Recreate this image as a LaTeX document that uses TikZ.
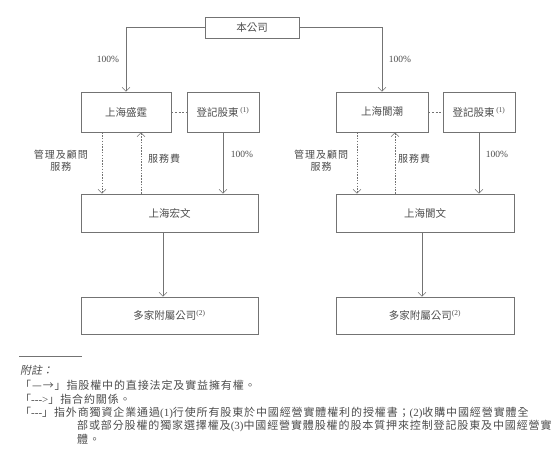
\documentclass[tikz,border=0pt]{standalone}
\usepackage{fontspec}
\setmainfont{Noto Sans CJK TC}
\newfontfamily\lat{Liberation Serif}
\newfontfamily\cjkit[FakeSlant=0.2]{Noto Sans CJK TC}
\newfontfamily\notefont[LetterSpace=8]{Noto Sans CJK TC}
\newfontfamily\lblfont[LetterSpace=10]{Noto Sans CJK TC}
\usetikzlibrary{arrows.meta}
\definecolor{inkgray}{gray}{0.3}
\definecolor{linegray}{gray}{0.45}
\tikzset{
  entity/.style={draw=linegray, line width=0.6pt, minimum height=40pt, inner sep=0pt,
    font=\fontsize{10.5}{12}\selectfont, text=inkgray},
  own/.style={draw=linegray, line width=0.6pt, -{Straight Barb[length=4pt,width=8pt]}},
  contract/.style={own, dash pattern=on 1.5pt off 1.3pt},
  ctrl/.style={draw=linegray, line width=0.6pt, dash pattern=on 2pt off 1.6pt},
  lbl/.style={font=\lblfont\fontsize{10}{12}\selectfont, text=inkgray, align=center, inner sep=0pt},
  pct/.style={font=\lat\fontsize{9.5}{11}\selectfont, text=inkgray, inner sep=0pt},
  note/.style={font=\notefont\fontsize{11}{13}\selectfont, text=inkgray, anchor=west, inner sep=0pt},
}
\begin{document}
\begin{tikzpicture}[x=1pt,y=-1pt]
\useasboundingbox (0,0) rectangle (560,464);
% entities
\node[entity, minimum width=94pt, minimum height=21pt] (company) at (252,27.5) {本公司};
\node[entity, minimum width=90pt] (shengting) at (126,112) {上海盛霆};
\node[entity, minimum width=72pt] (regA) at (223,112) {登記股東\,{\lat\textsuperscript{(1)}}};
\node[entity, minimum width=92pt] (kuochao) at (382,112) {上海閬潮};
\node[entity, minimum width=72pt] (regB) at (479,112) {登記股東\,{\lat\textsuperscript{(1)}}};
\node[entity, minimum width=177pt, minimum height=38pt] (hongwen) at (169.5,213) {上海宏文};
\node[entity, minimum width=178pt, minimum height=38pt] (kuowen) at (425,213) {上海閬文};
\node[entity, minimum width=177pt, minimum height=37pt] (subA) at (169.5,315.5) {多家附屬公司{\lat\textsuperscript{(2)}}};
\node[entity, minimum width=178pt, minimum height=37pt] (subB) at (425,315.5) {多家附屬公司{\lat\textsuperscript{(2)}}};
% line positions
\coordinate (mgA) at (102,0);
\coordinate (feeA) at (141,0);
\coordinate (downA) at (163,0);
\coordinate (mgB) at (357,0);
\coordinate (feeB) at (395,0);
\coordinate (downB) at (422,0);
% ownership
\draw[own] (company.west) -| (shengting.north);
\draw[own] (company.east) -| (kuochao.north);
\draw[own] (regA.south) -- (hongwen.north -| regA.south);
\draw[own] (regB.south) -- (kuowen.north -| regB.south);
\draw[own] (hongwen.south -| downA) -- (subA.north -| downA);
\draw[own] (kuowen.south -| downB) -- (subB.north -| downB);
% control
\draw[ctrl] (shengting.east) -- (regA.west);
\draw[ctrl] (kuochao.east) -- (regB.west);
% contracts
\draw[contract] (shengting.south -| mgA) -- (hongwen.north -| mgA);
\draw[contract] (hongwen.north -| feeA) -- (shengting.south -| feeA);
\draw[contract] (kuochao.south -| mgB) -- (kuowen.north -| mgB);
\draw[contract] (kuowen.north -| feeB) -- (kuochao.south -| feeB);
% labels
\node[pct] (pctA) at (108,59) {100\%};
\node[pct] (pctB) at (400,59) {100\%};
\node[pct] (pctC) at (242,154) {100\%};
\node[pct] (pctD) at (497,154) {100\%};
\node[lbl] (mgtA) at (61,161) {管理及顧問\\服務};
\node[lbl] (mgtB) at (321,161) {管理及顧問\\服務};
\node[lbl] (feeLA) at (164,159) {服務費};
\node[lbl] (feeLB) at (414,159) {服務費};
% notes
\draw[linegray, line width=0.5pt] (19,356) -- (82,356);
\node[note] (n0) at (20,370) {\cjkit 附註：};
\node[note] (n1) at (20,385) {「—→」指股權中的直接法定及實益擁有權。};
\node[note] (n2) at (20,399) {「{\lat -{}-{}->}」指合約關係。};
\node[note] (n3) at (20,413) {「{\lat -{}-{}-}」指外商獨資企業通過{\lat (1)}行使所有股東於中國經營實體權利的授權書；{\lat (2)}收購中國經營實體全};
\node[note] (n4) at (77,426) {部或部分股權的獨家選擇權及{\lat (3)}中國經營實體股權的股本質押來控制登記股東及中國經營實};
\node[note] (n5) at (77,439) {體。};
\end{tikzpicture}
\end{document}
